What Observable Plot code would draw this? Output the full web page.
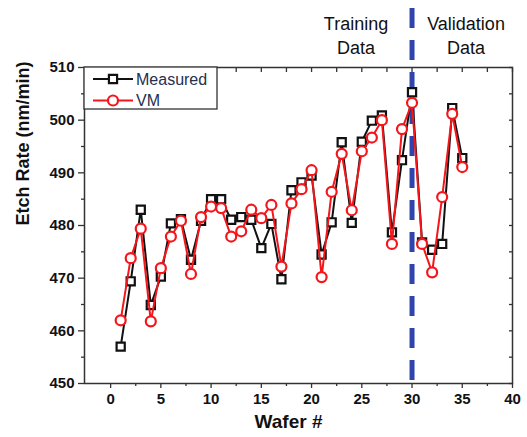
<!DOCTYPE html>
<html><head><meta charset="utf-8">
<script src="https://cdn.jsdelivr.net/npm/d3@7"></script>
<script src="https://cdn.jsdelivr.net/npm/@observablehq/plot@0.6"></script>
<style>html,body{margin:0;padding:0;background:#fff}</style>
</head><body><div id="chart"></div>
<script>
const wafers = [1,2,3,4,5,6,7,8,9,10,11,12,13,14,15,16,17,18,19,20,21,22,23,24,25,26,27,28,29,30,31,32,33,34,35];
const measured = [457.0,469.4,483.0,464.9,470.3,480.4,481.2,473.5,480.9,485.0,485.0,481.1,481.6,481.1,475.7,480.3,469.8,486.7,488.2,489.5,474.5,480.6,495.8,480.5,495.9,499.9,500.9,478.7,492.4,505.3,476.8,475.4,476.5,502.3,492.8];
const vm = [462.0,473.8,479.4,461.8,471.9,477.9,480.9,470.8,481.6,483.6,483.3,477.9,478.9,483.0,481.4,483.9,472.2,484.2,486.9,490.5,470.2,486.4,493.6,482.9,494.1,496.7,500.0,476.5,498.3,503.3,476.5,471.1,485.4,501.2,491.1];
const xTicks = [0,5,10,15,20,25,30,35,40];
const xMinor = [2.5,7.5,12.5,17.5,22.5,27.5,32.5,37.5];
const yTicks = [450,460,470,480,490,500,510];
const yMinor = [455,465,475,485,495,505];
const split = [30];
const seriesNames = ["Measured","VM"];
const xTitle = "Wafer #";
const yTitle = "Etch Rate (nm/min)";

const data = wafers.map((w,i)=>({wafer:w, measured:measured[i], vm:vm[i]}));
const RED = "#f5161b", BLACK = "#111", BLUE = "#2f45ad", AX = "#333";
const font = "'Liberation Sans', Arial, sans-serif";
const tickFont = {fontSize: 15, fontWeight: "bold", fill: "#111"};

const plot = Plot.plot({
  width: 527, height: 437,
  marginLeft: 84, marginRight: 15, marginTop: 67, marginBottom: 54,
  style: {fontFamily: font, background: "#fff", color: "#111", overflow: "visible"},
  x: {domain: [-2.6, 40]},
  y: {domain: [450, 510]},
  marks: [
    Plot.ruleX(split, {stroke: BLUE, strokeWidth: 5, strokeDasharray: "20,12", insetTop: -59}),
    Plot.axisX({ticks: xTicks, tickSize: 5, tickPadding: 5, stroke: AX, strokeWidth: 1.3, label: null, ...tickFont}),
    Plot.axisX({ticks: xMinor, tickSize: 3, text: null, stroke: AX, strokeWidth: 1.3, label: null}),
    Plot.axisX({anchor: "top", ticks: xTicks.concat(xMinor), tickSize: -4, text: null, stroke: AX, strokeWidth: 1.3, label: null}),
    Plot.axisY({ticks: yTicks, tickSize: 6, tickPadding: 4, stroke: AX, strokeWidth: 1.3, label: null, ...tickFont}),
    Plot.axisY({ticks: yMinor, tickSize: 3, text: null, stroke: AX, strokeWidth: 1.3, label: null}),
    Plot.axisY({anchor: "right", ticks: yTicks.concat(yMinor), tickSize: -4, text: null, stroke: AX, strokeWidth: 1.3, label: null}),
    Plot.frame({stroke: AX, strokeWidth: 1.5}),
    Plot.line(data, {x: "wafer", y: "measured", stroke: BLACK, strokeWidth: 2}),
    Plot.dot(data, {x: "wafer", y: "measured", symbol: "square", r: 4.6, stroke: BLACK, fill: "#fff", strokeWidth: 2.2}),
    Plot.line(data, {x: "wafer", y: "vm", stroke: RED, strokeWidth: 2}),
    Plot.dot(data, {x: "wafer", y: "vm", symbol: "circle", r: 5, stroke: RED, fill: "#fff", strokeWidth: 2.2}),
    Plot.text([yTitle], {frameAnchor: "left", dx: -61, rotate: -90, fontSize: 18, fontWeight: "bold", fill: "#111"}),
    Plot.text([xTitle], {frameAnchor: "bottom", dy: 44, dx: -10, fontSize: 19, fontWeight: "bold", fill: "#111"}),
    Plot.text(split, {x: d => d, text: () => "Training\nData", frameAnchor: "top", lineAnchor: "middle", dy: -33, dx: -56, fontSize: 18, lineHeight: 1.35, fill: "#111"}),
    Plot.text(split, {x: d => d, text: () => "Validation\nData", frameAnchor: "top", lineAnchor: "middle", dy: -33, dx: 54, fontSize: 18, lineHeight: 1.35, fill: "#111"})
  ]
});
document.getElementById("chart").appendChild(plot);

// legend
const svg = d3.select(plot);
const lg = svg.append("g").attr("font-family", font).attr("text-anchor", "start");
lg.append("rect").attr("x", 84).attr("y", 67).attr("width", 133).attr("height", 42)
  .attr("fill", "#fff").attr("stroke", AX).attr("stroke-width", 1.3);
const items = [
  {name: seriesNames[0], color: BLACK, sym: d3.symbolSquare, size: Math.PI*4.6*4.6, y: 79},
  {name: seriesNames[1], color: RED, sym: d3.symbolCircle, size: Math.PI*5*5, y: 100.5}
];
items.forEach(it => {
  lg.append("line").attr("x1", 93).attr("x2", 133).attr("y1", it.y).attr("y2", it.y)
    .attr("stroke", it.color).attr("stroke-width", 2);
  lg.append("path").attr("d", d3.symbol(it.sym, it.size)()).attr("transform", `translate(113,${it.y})`)
    .attr("fill", "#fff").attr("stroke", it.color).attr("stroke-width", 2.2);
  lg.append("text").attr("x", 136).attr("y", it.y).attr("dy", "0.35em").attr("font-size", 16)
    .attr("text-anchor", "start").attr("fill", "#243050").text(it.name);
});
</script>
</body></html>
